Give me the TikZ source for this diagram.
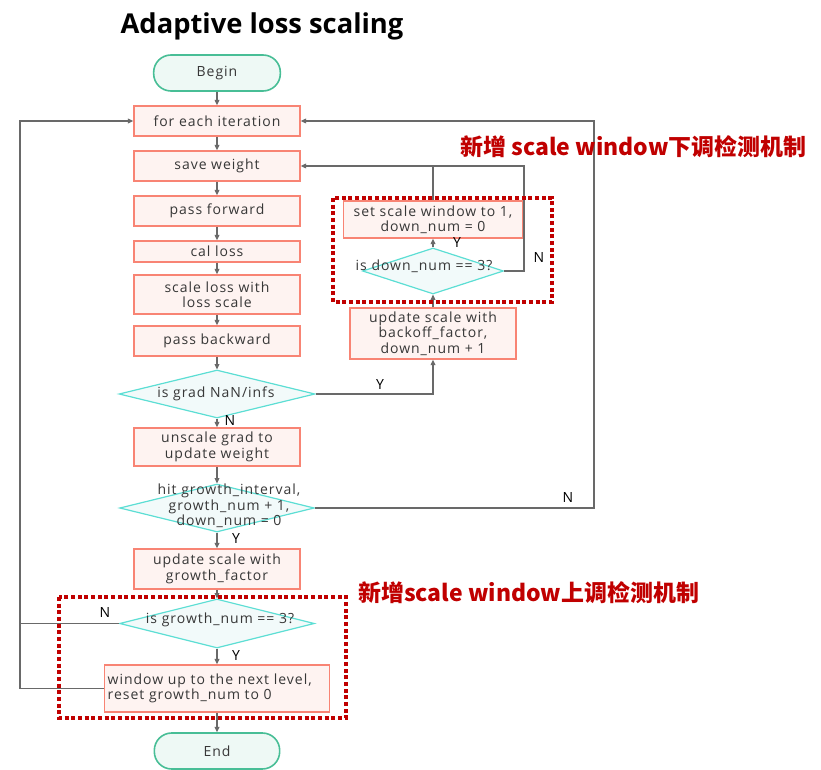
\documentclass[tikz,border=0pt]{standalone}
\usepackage{fontspec}
\setmainfont{Open Sans}
\newfontfamily\boxfont[LetterSpace=7]{Open Sans}
\newfontfamily\cjkfont{Noto Sans CJK SC}
\usetikzlibrary{arrows.meta,shapes.geometric}
\definecolor{boxline}{RGB}{248,132,116}
\definecolor{boxfill}{RGB}{254,243,241}
\definecolor{dialine}{RGB}{92,222,212}
\definecolor{diafill}{RGB}{242,250,250}
\definecolor{termline}{RGB}{72,190,150}
\definecolor{termfill}{RGB}{238,249,245}
\definecolor{flowgray}{RGB}{105,105,105}
\definecolor{txtgray}{RGB}{55,55,55}
\definecolor{notered}{RGB}{192,0,0}
\tikzset{
  proc/.style  = {draw=boxline,line width=1.2pt,fill=boxfill,minimum width=124.5pt,
                  align=center,font=\boxfont\fontsize{10.5}{11.5}\selectfont,text=txtgray,inner sep=1pt},
  dec/.style   = {diamond,draw=dialine,line width=0.9pt,fill=diafill,
                  minimum width=147pt,minimum height=36pt,inner sep=0pt},
  dtxt/.style  = {align=center,font=\boxfont\fontsize{10.5}{11.5}\selectfont,text=txtgray,inner sep=0pt},
  term/.style  = {draw=termline,line width=1.2pt,fill=termfill,rounded corners=13pt,
                  minimum height=27pt,font=\boxfont\fontsize{10.5}{11.5}\selectfont,text=txtgray},
  flow/.style  = {->,>={Triangle[length=4pt,width=3.6pt]},line width=0.8pt,color=flowgray},
  wire/.style  = {line width=0.8pt,color=flowgray},
  yn/.style    = {font=\boxfont\fontsize{10.5}{11.5}\selectfont,inner sep=0pt},
  note/.style  = {font=\cjkfont\bfseries\fontsize{17.2}{19}\selectfont,text=notered,inner sep=0pt},
  win/.style   = {draw=notered,line width=3pt,dash pattern=on 3pt off 2pt},
}
\begin{document}
\begin{tikzpicture}[x=0.75pt,y=-0.75pt]
  \useasboundingbox (0,0) rectangle (821,770);
  \node[font=\bfseries\fontsize{20.5}{22}\selectfont] (title) at (262,26) {Adaptive loss scaling};

  % main column
  \node[term,minimum width=95pt] (begin) at (217,73) {Begin};
  \node[proc,minimum height=22.5pt] (iter) at (217,121) {for each iteration};
  \node[proc,minimum height=22.5pt] (save) at (217,166) {save weight};
  \node[proc,minimum height=22.5pt] (fwd) at (217,211) {pass forward};
  \node[proc,minimum height=15.75pt] (loss) at (217,251.5) {cal loss};
  \node[proc,minimum height=29.25pt] (sloss) at (217,294.5) {scale loss with\\loss scale};
  \node[proc,minimum height=22.5pt] (bwd) at (217,341) {pass backward};
  \node[dec] (nan) at (217,394) {};
  \node[dtxt] (nanT) at (216,394) {is grad NaN/infs};
  \node[proc,minimum height=28.5pt] (unsc) at (217,447) {unscale grad to\\update weight};
  \node[dec,minimum width=146pt] (hit) at (217,508) {};
  \node[dtxt] (hitT) at (229,506) {hit growth\_interval,\\growth\_num + 1,\\down\_num = 0};
  \node[proc,minimum height=30pt] (grow) at (217,569) {update scale with\\growth\_factor};
  \node[dec,minimum width=146pt,minimum height=36.75pt] (gnum) at (217,623.5) {};
  \node[dtxt] (gnumT) at (220,620) {is growth\_num == 3?};
  \node[proc,minimum width=168.75pt,minimum height=35.25pt,text width=164pt,align=left]
    (up) at (217,688.5) {window up to the next level,\\reset growth\_num to 0};
  \node[term,minimum width=94pt] (end) at (217,751) {End};

  % right column
  \node[proc,minimum height=38.25pt] (back) at (433,333.5) {update scale with\\backoff\_factor,\\down\_num + 1};
  \node[dec,minimum width=105.75pt,minimum height=34.5pt] (dnum) at (433,271) {};
  \node[dtxt] (dnumT) at (424,266) {is down\_num == 3?};
  \node[proc,minimum width=134.25pt,minimum height=27.75pt] (rst) at (433,219.5) {set scale window to 1,\\down\_num = 0};

  \draw[flow] (begin) -- (iter);
  \draw[flow] (iter) -- (save);
  \draw[flow] (save) -- (fwd);
  \draw[flow] (fwd) -- (loss);
  \draw[flow] (loss) -- (sloss);
  \draw[flow] (sloss) -- (bwd);
  \draw[flow] (bwd) -- (nan);
  \draw[flow] (nan) -- (unsc);
  \draw[flow] (unsc) -- (hit);
  \draw[flow] (hit) -- (grow);
  \draw[flow] (grow) -- (gnum);
  \draw[flow] (gnum) -- (up);
  \draw[flow] (up) -- (end);
  \draw[flow] (nan.east) -| (back.south);
  \draw[flow] (back) -- (dnum);
  \draw[flow] (dnum) -- (rst);
  \draw[flow] (rst.north) |- (save.east);
  \draw[wire] (dnum.east) -- (524,271) |- (rst.north |- save.east);
  \draw[flow] (hit.east) -- (594,508) |- (iter.east);
  \draw[flow] (gnum.west) -- (20,623.5) |- (iter.west);
  \draw[wire] (up.west) -- (20,688.5) -- (20,623.5);

  \node[yn] (yNan) at (380,385) {Y};
  \node[yn] (nNan) at (230,421) {N};
  \node[yn] (nHit) at (568,497) {N};
  \node[yn] (yHit) at (236,538) {Y};
  \node[yn] (yDown) at (457,243) {Y};
  \node[yn] (nDown) at (539,258) {N};
  \node[yn] (nGrow) at (105,612) {N};
  \node[yn] (yGrow) at (236,655) {Y};

  \draw[win] (333,198) rectangle (552,302);
  \draw[win] (59,597) rectangle (346,718);
  \node[note,anchor=west] (noteDown) at (460,147) {新增 scale window下调检测机制};
  \node[note,anchor=west] (noteUp) at (358,593) {新增scale window上调检测机制};
\end{tikzpicture}
\end{document}
